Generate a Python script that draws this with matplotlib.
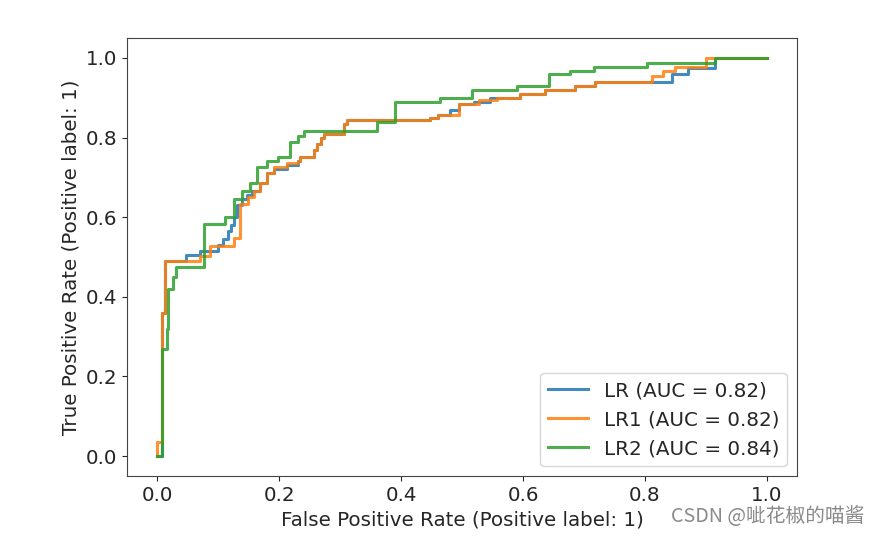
import matplotlib

matplotlib.use("Agg")
import matplotlib.pyplot as plt

# step curves: level held from each fpr value until the next one
LR_FPR = [0.0, 0.008, 0.012, 0.046, 0.069, 0.10, 0.108, 0.115, 0.12, 0.125,
          0.13, 0.138, 0.147, 0.155, 0.169, 0.18, 0.192, 0.213, 0.23, 0.234,
          0.257, 0.262, 0.268, 0.273, 0.306, 0.311, 0.447, 0.46, 0.48, 0.495,
          0.52, 0.545, 0.595, 0.636, 0.685, 0.718, 0.845, 0.87, 0.915, 1.0]
LR_TPR = [0.0, 0.36, 0.49, 0.505, 0.515, 0.53, 0.545, 0.565, 0.58, 0.60,
          0.63, 0.645, 0.655, 0.667, 0.687, 0.71, 0.72, 0.73, 0.742, 0.75,
          0.768, 0.785, 0.80, 0.81, 0.835, 0.843, 0.85, 0.856, 0.87, 0.884,
          0.89, 0.90, 0.91, 0.92, 0.93, 0.94, 0.96, 0.975, 1.0, 1.0]

LR1_FPR = [0.0, 0.0, 0.008, 0.012, 0.069, 0.087, 0.126, 0.136, 0.148, 0.159,
           0.169, 0.18, 0.192, 0.213, 0.23, 0.234, 0.257, 0.262, 0.268,
           0.273, 0.306, 0.311, 0.447, 0.46, 0.495, 0.527, 0.557, 0.595,
           0.636, 0.685, 0.718, 0.811, 0.83, 0.85, 0.90, 1.0]
LR1_TPR = [0.0, 0.035, 0.36, 0.49, 0.503, 0.528, 0.548, 0.634, 0.65, 0.667,
           0.687, 0.71, 0.725, 0.735, 0.742, 0.75, 0.768, 0.785, 0.80,
           0.81, 0.835, 0.843, 0.85, 0.856, 0.884, 0.894, 0.90, 0.91,
           0.92, 0.93, 0.94, 0.955, 0.966, 0.976, 1.0, 1.0]

LR2_FPR = [0.0, 0.008, 0.015, 0.018, 0.025, 0.03, 0.077, 0.11, 0.126, 0.139,
           0.152, 0.164, 0.18, 0.197, 0.218, 0.23, 0.241, 0.36, 0.39, 0.464,
           0.516, 0.59, 0.643, 0.677, 0.716, 0.803, 0.915, 1.0]
LR2_TPR = [0.0, 0.27, 0.32, 0.42, 0.45, 0.475, 0.583, 0.60, 0.645, 0.667,
           0.687, 0.725, 0.742, 0.752, 0.788, 0.803, 0.816, 0.838, 0.889,
           0.899, 0.92, 0.93, 0.96, 0.967, 0.977, 0.987, 1.0, 1.0]

LABELS = ["LR (AUC = 0.82)", "LR1 (AUC = 0.82)", "LR2 (AUC = 0.84)"]
COLORS = ["#1f77b4", "#ff7f0e", "#2ca02c"]

plt.rcParams["font.size"] = 14.3
plt.rcParams["text.color"] = "#262626"
plt.rcParams["axes.labelcolor"] = "#262626"
plt.rcParams["xtick.color"] = "#262626"
plt.rcParams["ytick.color"] = "#262626"

fig = plt.figure(figsize=(8.79, 5.47), dpi=100)
ax = fig.add_axes([0.1445, 0.1298, 0.7625, 0.8007])

curves = [(LR_FPR, LR_TPR), (LR1_FPR, LR1_TPR), (LR2_FPR, LR2_TPR)]
for (fpr, tpr), label, color in zip(curves, LABELS, COLORS):
    ax.step(fpr, tpr, where="post", color=color, lw=2.2, label=label,
            alpha=0.85)

ax.set_xlim(-0.05, 1.05)
ax.set_ylim(-0.05, 1.05)
ax.set_xticks([0.0, 0.2, 0.4, 0.6, 0.8, 1.0])
ax.set_yticks([0.0, 0.2, 0.4, 0.6, 0.8, 1.0])
for s in ax.spines.values():
    s.set_color("#444444")
ax.set_xlabel("False Positive Rate (Positive label: 1)")
ax.set_ylabel("True Positive Rate (Positive label: 1)")
ax.legend(loc="lower right", fontsize=14.3)

fig.text(0.984, 0.036, "CSDN @呲花椒的喵酱", ha="right", va="bottom",
         color="#8a8a8a", fontsize=14.2,
         family=["Noto Sans CJK SC", "DejaVu Sans"])

fig.savefig("out.png", dpi=100)
